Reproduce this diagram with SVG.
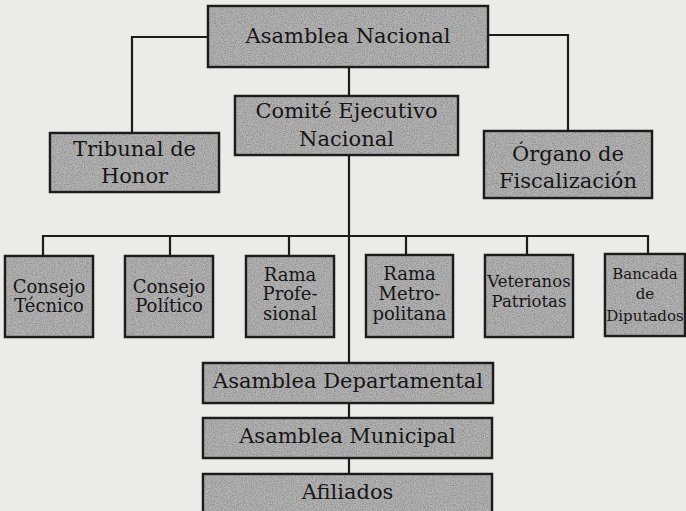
<svg xmlns="http://www.w3.org/2000/svg" width="686" height="511" viewBox="0 0 686 511">
  <defs>
    <filter id="grain" x="0" y="0" width="100%" height="100%">
      <feTurbulence type="fractalNoise" baseFrequency="0.9" numOctaves="2" seed="7" result="n"/>
      <feColorMatrix in="n" type="matrix" values="0 0 0 0 0  0 0 0 0 0  0 0 0 0 0  0 0 0 0.9 -0.3" result="g"/>
      <feComposite in="g" in2="SourceGraphic" operator="in" result="gc"/>
      <feMerge><feMergeNode in="SourceGraphic"/><feMergeNode in="gc"/></feMerge>
    </filter>
  </defs>
  <style>
    .bg { fill: #ebebea; }
    .box { fill: #b4b4b4; stroke: #1c1c1c; stroke-width: 2.5; }
    .tex { fill: #b6b6b6; filter: url(#grain); }
    .edge { fill: none; stroke: #1c1c1c; stroke-width: 2.2; }
    text { font-family: "DejaVu Serif", "Liberation Serif", serif; fill: #161616; text-anchor: middle; }
    .big { font-size: 21px; }
    .sm { font-size: 18px; }
    .nar { font-size: 16.5px; }
    .xs { font-size: 15px; }
  </style>
  <rect class="bg" x="0" y="0" width="686" height="511"/>

  <g id="connectors">
    <path class="edge" d="M208,37 H132 V133"/>
    <path class="edge" d="M488,35 H568 V131"/>
    <path class="edge" d="M349,67 V96"/>
    <path class="edge" d="M349,155 V363"/>
    <path class="edge" d="M43,256 V236 H648 V255"/>
    <path class="edge" d="M170,236 V256"/>
    <path class="edge" d="M289,236 V256"/>
    <path class="edge" d="M406,236 V255"/>
    <path class="edge" d="M527,236 V255"/>
    <path class="edge" d="M349,403 V418"/>
    <path class="edge" d="M349,458 V474"/>
  </g>

  <g id="asamblea-nacional">
    <rect class="box" x="208" y="6" width="280" height="61"/>
    <rect class="tex" x="210" y="8" width="276" height="57"/>
    <text class="big" x="348" y="43">Asamblea Nacional</text>
  </g>
  <g id="comite-ejecutivo">
    <rect class="box" x="235" y="96" width="223" height="59"/>
    <rect class="tex" x="237" y="98" width="219" height="55"/>
    <text class="big" x="346.5" y="118">Comité Ejecutivo</text>
    <text class="big" x="346.5" y="146">Nacional</text>
  </g>
  <g id="tribunal-honor">
    <rect class="box" x="50" y="133" width="169" height="59"/>
    <rect class="tex" x="52" y="135" width="165" height="55"/>
    <text class="big" x="134.5" y="156">Tribunal de</text>
    <text class="big" x="134.5" y="183">Honor</text>
  </g>
  <g id="organo-fiscalizacion">
    <rect class="box" x="484" y="131" width="168" height="67"/>
    <rect class="tex" x="486" y="133" width="164" height="63"/>
    <text class="big" x="568" y="161">Órgano de</text>
    <text class="big" x="568" y="188">Fiscalización</text>
  </g>

  <g id="consejo-tecnico">
    <rect class="box" x="5" y="256" width="88" height="81"/>
    <rect class="tex" x="7" y="258" width="84" height="77"/>
    <text class="sm" x="49" y="293">Consejo</text>
    <text class="sm" x="49" y="312">Técnico</text>
  </g>
  <g id="consejo-politico">
    <rect class="box" x="125" y="256" width="88" height="81"/>
    <rect class="tex" x="127" y="258" width="84" height="77"/>
    <text class="sm" x="169" y="293">Consejo</text>
    <text class="sm" x="169" y="312">Político</text>
  </g>
  <g id="rama-profesional">
    <rect class="box" x="246" y="256" width="88" height="81"/>
    <rect class="tex" x="248" y="258" width="84" height="77"/>
    <text class="sm" x="290" y="281">Rama</text>
    <text class="sm" x="290" y="300">Profe-</text>
    <text class="sm" x="290" y="320">sional</text>
  </g>
  <g id="rama-metropolitana">
    <rect class="box" x="366" y="255" width="87" height="82"/>
    <rect class="tex" x="368" y="257" width="83" height="78"/>
    <text class="sm" x="409.5" y="280">Rama</text>
    <text class="sm" x="409.5" y="300">Metro-</text>
    <text class="sm" x="409.5" y="320">politana</text>
  </g>
  <g id="veteranos-patriotas">
    <rect class="box" x="485" y="255" width="88" height="82"/>
    <rect class="tex" x="487" y="257" width="84" height="78"/>
    <text class="nar" x="529" y="287">Veteranos</text>
    <text class="nar" x="529" y="307">Patriotas</text>
  </g>
  <g id="bancada-diputados">
    <rect class="box" x="605" y="254" width="80" height="82"/>
    <rect class="tex" x="607" y="256" width="76" height="78"/>
    <text class="xs" x="645" y="279">Bancada</text>
    <text class="xs" x="645" y="299">de</text>
    <text class="xs" x="645" y="321">Diputados</text>
  </g>

  <g id="asamblea-departamental">
    <rect class="box" x="203" y="363" width="290" height="40"/>
    <rect class="tex" x="205" y="365" width="286" height="36"/>
    <text class="big" x="348" y="388">Asamblea Departamental</text>
  </g>
  <g id="asamblea-municipal">
    <rect class="box" x="203" y="418" width="289" height="40"/>
    <rect class="tex" x="205" y="420" width="285" height="36"/>
    <text class="big" x="347.5" y="443">Asamblea Municipal</text>
  </g>
  <g id="afiliados">
    <rect class="box" x="203" y="474" width="289" height="46"/>
    <rect class="tex" x="205" y="476" width="285" height="42"/>
    <text class="big" x="347.5" y="499">Afiliados</text>
  </g>
</svg>
